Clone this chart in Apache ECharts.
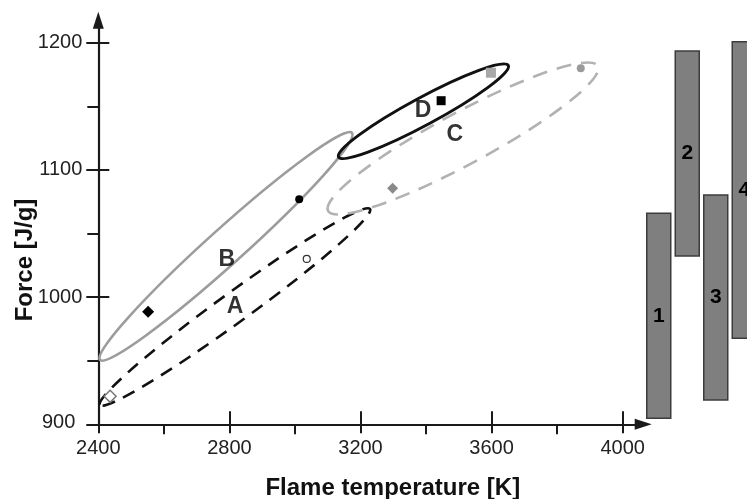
<!DOCTYPE html>
<html>
<head>
<meta charset="utf-8">
<script src="https://cdn.jsdelivr.net/npm/echarts@6/dist/echarts.min.js"></script>
<style>html,body{margin:0;padding:0;background:#fff;}#c{width:747px;height:499px;}</style>
</head>
<body>
<div id="c"></div>
<script>
// ---- data ----
const xTicks = [2400, 2800, 3200, 3600, 4000];
const yTicks = [900, 1000, 1100, 1200];

// measured points (flame temperature K, force J/g)
const pointT = [2436, 3036, 2552, 3013, 3298, 3872, 3446, 3598];
const pointF = [922, 1030, 988.5, 1077, 1085.5, 1180, 1154.4, 1176.4];

// ellipse regions: major-axis ends and one point on the minor axis edge
const ellipseNames = ['A', 'B', 'C', 'D'];
const ellipseStartT = [2405, 2405, 3101, 3133];
const ellipseStartF = [915.2, 950.6, 1067.7, 1110.1];
const ellipseEndT = [3229, 3174, 3924, 3651];
const ellipseEndF = [1069.3, 1129.2, 1181.7, 1182.1];
const ellipseEdgeT = [2790, 2736.5, 3475, 3374];
const ellipseEdgeF = [1001.7, 1046.4, 1142.7, 1155.8];

// region letters
const labelNames = ['A', 'B', 'C', 'D'];
const labelT = [2817, 2792, 3488, 3391];
const labelF = [992.5, 1029.2, 1127.4, 1146.5];

// force ranges (bars)
const barNames = ['1', '2', '3', '4'];
const barLow = [904.7, 1032.3, 919.1, 967.6];
const barHigh = [1065.9, 1193.5, 1080.3, 1200.8];

// ---- styles ----
const pointStyles = [
  {symbol: 'diamond', size: 12, color: '#fff', border: '#777', bw: 1.5},
  {symbol: 'circle', size: 7, color: '#fff', border: '#333', bw: 1.2},
  {symbol: 'diamond', size: 12, color: '#000', border: '#000', bw: 0},
  {symbol: 'circle', size: 8, color: '#000', border: '#000', bw: 0},
  {symbol: 'diamond', size: 11, color: '#8a8a8a', border: '#8a8a8a', bw: 0},
  {symbol: 'circle', size: 8, color: '#9a9a9a', border: '#9a9a9a', bw: 0},
  {symbol: 'rect', size: 9, color: '#000', border: '#000', bw: 0},
  {symbol: 'rect', size: 10, color: '#a8a8a8', border: '#a8a8a8', bw: 0}
];
const ellipseStyles = [
  {stroke: '#111', lineWidth: 2.6, lineDash: [13, 9]},
  {stroke: '#9c9c9c', lineWidth: 2.6, lineDash: null},
  {stroke: '#b2b2b2', lineWidth: 2.6, lineDash: [15, 10]},
  {stroke: '#111', lineWidth: 3, lineDash: null}
];

const FONT = '"Liberation Sans", Arial, Helvetica, sans-serif';
const AX = '#1a1a1a';
const plain = v => String(v);
const yLabel = v => (v === yTicks[0] ? '{low|' + v + '}' : String(v));

const chart = echarts.init(document.getElementById('c'), null, {renderer: 'canvas'});

// bar slot width 28.5 px; bar grid reaches the right edge of the window
const barGridLeft = 644.5, barGridWidth = 747 - 644.5, barSlot = 28.5;

const option = {
  animation: false,
  backgroundColor: '#fff',
  grid: [
    {left: 98.3, top: 42.7, width: 524.4, height: 381.6},
    {left: 98.3, top: 20.2, width: 544.9, height: 404.1},
    {left: barGridLeft, top: 42.7, width: barGridWidth, height: 381.6}
  ],
  xAxis: [
    {gridIndex: 0, type: 'value', position: 'bottom', min: xTicks[0], max: xTicks[xTicks.length - 1], interval: 400,
     axisLine: {show: false, onZero: false}, splitLine: {show: false},
     axisTick: {show: true, inside: false, length: 9, lineStyle: {color: AX, width: 2}},
     minorTick: {show: true, splitNumber: 2, length: 10, lineStyle: {color: AX, width: 2}},
     axisLabel: {fontSize: 20, fontFamily: FONT, color: '#222', margin: 14, formatter: plain}},
    {gridIndex: 0, type: 'value', position: 'bottom', min: xTicks[0], max: xTicks[xTicks.length - 1], interval: 400,
     axisLine: {show: false, onZero: false}, splitLine: {show: false}, axisLabel: {show: false},
     axisTick: {show: true, inside: true, length: 13, lineStyle: {color: AX, width: 2}}},
    {gridIndex: 1, type: 'value', min: 0, max: 1, position: 'bottom',
     axisLine: {show: true, onZero: false, symbol: ['none', 'triangle'], symbolSize: [11, 17], lineStyle: {color: AX, width: 2.2}},
     axisTick: {show: false}, axisLabel: {show: false}, splitLine: {show: false}},
    {gridIndex: 2, type: 'value', min: 0.5, max: 0.5 + barGridWidth / barSlot, show: false}
  ],
  yAxis: [
    {gridIndex: 0, type: 'value', position: 'left', min: yTicks[0], max: yTicks[yTicks.length - 1], interval: 100,
     axisLine: {show: false, onZero: false}, splitLine: {show: false},
     axisTick: {show: true, inside: false, length: 12, lineStyle: {color: AX, width: 2}},
     minorTick: {show: true, splitNumber: 2, length: 11, lineStyle: {color: AX, width: 2}},
     axisLabel: {fontSize: 20, fontFamily: FONT, color: '#222', margin: 16, formatter: yLabel,
                 rich: {low: {fontSize: 20, fontFamily: FONT, color: '#222', padding: [0, 7, 4, 0]}}}},
    {gridIndex: 0, type: 'value', position: 'left', min: yTicks[0], max: yTicks[yTicks.length - 1], interval: 100,
     axisLine: {show: false, onZero: false}, splitLine: {show: false}, axisLabel: {show: false},
     axisTick: {show: true, inside: true, length: 11, lineStyle: {color: AX, width: 2}}},
    {gridIndex: 1, type: 'value', min: 0, max: 1, position: 'left',
     axisLine: {show: true, onZero: false, symbol: ['none', 'triangle'], symbolSize: [11, 17], lineStyle: {color: AX, width: 2.2}},
     axisTick: {show: false}, axisLabel: {show: false}, splitLine: {show: false}},
    {gridIndex: 2, type: 'value', min: yTicks[0], max: yTicks[yTicks.length - 1], show: false}
  ],
  series: [
    {
      type: 'custom', name: 'regions', xAxisIndex: 0, yAxisIndex: 0, clip: false, z: 3,
      data: ellipseNames.map((n, i) => [ellipseStartT[i], ellipseStartF[i], ellipseEndT[i], ellipseEndF[i], ellipseEdgeT[i], ellipseEdgeF[i]]),
      renderItem: function (params, api) {
        const p1 = api.coord([api.value(0), api.value(1)]);
        const p2 = api.coord([api.value(2), api.value(3)]);
        const pm = api.coord([api.value(4), api.value(5)]);
        const cx = (p1[0] + p2[0]) / 2, cy = (p1[1] + p2[1]) / 2;
        const dx = p2[0] - p1[0], dy = p2[1] - p1[1];
        const len = Math.sqrt(dx * dx + dy * dy);
        const ux = dx / len, uy = dy / len;
        const ry = Math.abs((pm[0] - cx) * uy - (pm[1] - cy) * ux);
        const st = ellipseStyles[params.dataIndex];
        return {
          type: 'ellipse', x: cx, y: cy, rotation: -Math.atan2(dy, dx),
          shape: {cx: 0, cy: 0, rx: len / 2, ry: ry},
          style: {fill: 'none', stroke: st.stroke, lineWidth: st.lineWidth, lineDash: st.lineDash}
        };
      }
    },
    {
      type: 'scatter', name: 'points', xAxisIndex: 0, yAxisIndex: 0, z: 4,
      data: pointT.map((t, i) => ({
        value: [t, pointF[i]],
        symbol: pointStyles[i].symbol,
        symbolSize: pointStyles[i].size,
        itemStyle: {color: pointStyles[i].color, borderColor: pointStyles[i].border, borderWidth: pointStyles[i].bw, opacity: 1}
      }))
    },
    {
      type: 'scatter', name: 'letters', xAxisIndex: 0, yAxisIndex: 0, z: 5, symbolSize: 0,
      data: labelNames.map((n, i) => ({name: n, value: [labelT[i], labelF[i]]})),
      label: {show: true, position: 'inside', formatter: '{b}', fontSize: 23, fontWeight: 'bold', fontFamily: FONT, color: '#000'}
    },
    {
      type: 'custom', name: 'ranges', xAxisIndex: 3, yAxisIndex: 3, clip: false, z: 2,
      data: barNames.map((n, i) => [i + 1, barLow[i], barHigh[i]]),
      renderItem: function (params, api) {
        const lo = api.coord([api.value(0), api.value(1)]);
        const hi = api.coord([api.value(0), api.value(2)]);
        const w = 24;
        return {
          type: 'rect',
          shape: {x: lo[0] - w / 2, y: hi[1], width: w, height: lo[1] - hi[1]},
          style: {fill: '#7f7f7f', stroke: '#3c3c3c', lineWidth: 1.5},
          textContent: {style: {text: barNames[params.dataIndex], fontSize: 21, fontWeight: 'bold', fontFamily: FONT, fill: '#000'}},
          textConfig: {position: 'inside'}
        };
      }
    }
  ],
  graphic: [
    {type: 'text', x: 392.8, y: 488, z: 10,
     style: {text: 'Flame temperature [K]', fontSize: 24, fontWeight: 'bold', fontFamily: FONT, fill: '#111', align: 'center', verticalAlign: 'middle'}},
    {type: 'text', x: 25, y: 260, rotation: Math.PI / 2, z: 10,
     style: {text: 'Force [J/g]', fontSize: 24, fontWeight: 'bold', fontFamily: FONT, fill: '#111', align: 'center', verticalAlign: 'middle'}}
  ]
};
chart.setOption(option);
</script>
</body>
</html>
